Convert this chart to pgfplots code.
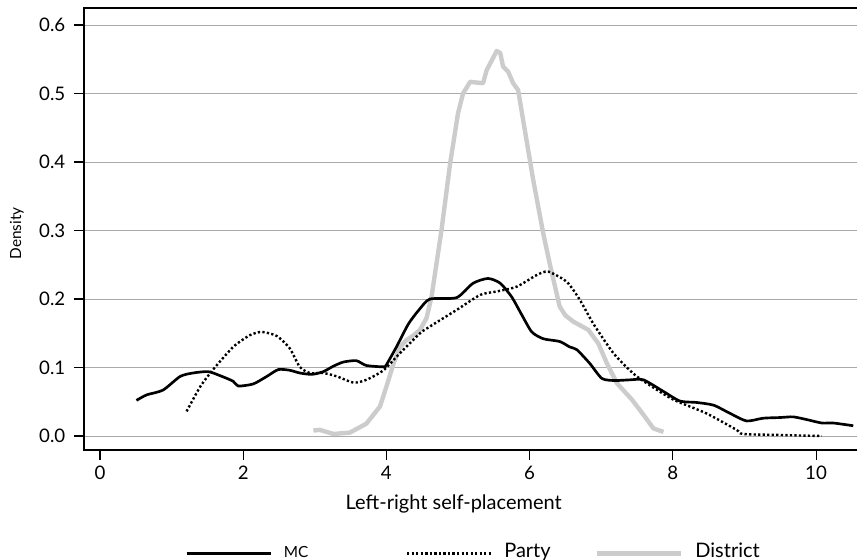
\documentclass[border=0pt]{standalone}
\usepackage{fontspec}
\setmainfont{Lato}
\usepackage{pgfplots}
\pgfplotsset{compat=1.18}
\usetikzlibrary{calc}
\definecolor{distgray}{RGB}{204,204,204}
\definecolor{gridgray}{RGB}{170,170,170}

\begin{document}
\begin{tikzpicture}
\begin{axis}[
    name=ax,
    scale only axis,
    width=581.25pt, height=331.5pt,
    xmin=-0.223, xmax=10.6,
    ymin=-0.0204, ymax=0.6248,
    xtick={0,2,4,6,8,10},
    ytick={0,0.1,0.2,0.3,0.4,0.5,0.6},
    /pgf/number format/assume math mode=true,
    yticklabel style={xshift=-3pt, /pgf/number format/fixed, /pgf/number format/fixed zerofill, /pgf/number format/precision=1},
    xticklabel style={yshift=-1pt},
    tick label style={font=\fontsize{14}{16}\selectfont},
    tick align=outside,
    xtick pos=bottom, ytick pos=left,
    major tick length=7.5pt,
    tick style={black, line width=0.8pt},
    axis line style={black, line width=0.8pt},
    ymajorgrids,
    major grid style={gridgray, line width=0.7pt},
    xlabel={Left-right self-placement},
    xlabel style={at={(axis description cs:0.477,-0.1335)}, anchor=base, font=\fontsize{15}{17}\selectfont},
    ylabel={Density},
    ylabel style={at={(axis description cs:-0.0865,0.49)}, anchor=center, font=\fontsize{11.5}{13}\selectfont},
    reverse legend,
    legend columns=3,
    legend image code/.code={\draw[#1] (0pt,-1.5pt) -- (63pt,-1.5pt);},
    legend style={draw=none, fill=none, inner sep=0pt,
        at={(axis description cs:0.1303,-0.2295)}, anchor=west,
        nodes={inner sep=0pt},
        font=\fontsize{15}{17}\selectfont,
        /tikz/every odd column/.append style={column sep=9pt},
        /tikz/every even column/.append style={column sep=0pt}},
]
% District (drawn first, behind)
\addplot[distgray, line width=3.3pt, line join=round] coordinates {
(2.98,0.008)(3.07,0.009)(3.26,0.003)(3.49,0.005)(3.72,0.018)(3.91,0.043)(4.00,0.072)
(4.10,0.106)(4.19,0.130)(4.28,0.140)(4.38,0.147)(4.47,0.155)(4.56,0.172)(4.63,0.203)
(4.70,0.252)(4.77,0.301)(4.89,0.398)(5.00,0.471)(5.07,0.500)(5.17,0.517)(5.35,0.515)
(5.40,0.534)(5.54,0.562)(5.59,0.559)(5.63,0.539)(5.70,0.532)(5.77,0.515)(5.84,0.505)
(5.91,0.461)(6.05,0.374)(6.19,0.296)(6.28,0.252)(6.42,0.189)(6.50,0.176)(6.61,0.167)
(6.82,0.155)(6.96,0.135)(7.08,0.106)(7.22,0.077)(7.43,0.053)(7.59,0.031)(7.73,0.011)
(7.87,0.006)
};
\addlegendentry{District}
% Party
\addplot[black, line width=1.8pt, dash pattern=on 1.7pt off 1.7pt, smooth, tension=0.4] coordinates {
(1.21,0.036)(1.40,0.072)(1.58,0.097)(1.86,0.130)(2.09,0.147)(2.26,0.152)(2.47,0.146)
(2.65,0.128)(2.79,0.101)(2.93,0.092)(3.12,0.092)(3.31,0.087)(3.54,0.078)(3.72,0.082)
(3.96,0.096)(4.19,0.121)(4.47,0.150)(4.61,0.160)(4.98,0.184)(5.31,0.206)(5.54,0.211)
(5.82,0.218)(6.10,0.235)(6.26,0.240)(6.52,0.225)(6.70,0.199)(6.89,0.164)(7.17,0.121)
(7.45,0.091)(7.68,0.074)(8.01,0.053)(8.47,0.033)(8.89,0.009)(8.98,0.003)(9.50,0.0015)
(10.08,0.0)
};
\addlegendentry{\makebox[68pt][l]{Party}}
% MC
\addplot[black, line width=2pt, smooth, tension=0.4] coordinates {
(0.51,0.052)(0.65,0.060)(0.88,0.067)(1.12,0.087)(1.30,0.092)(1.51,0.094)(1.68,0.088)
(1.86,0.080)(1.93,0.073)(2.14,0.076)(2.33,0.087)(2.49,0.097)(2.65,0.096)(2.79,0.092)
(2.96,0.090)(3.12,0.094)(3.26,0.102)(3.40,0.108)(3.58,0.110)(3.72,0.103)(3.96,0.101)
(4.00,0.104)(4.14,0.130)(4.31,0.164)(4.47,0.186)(4.61,0.200)(4.98,0.202)(5.21,0.223)
(5.42,0.230)(5.59,0.223)(5.75,0.203)(5.89,0.177)(6.03,0.152)(6.19,0.142)(6.42,0.138)
(6.56,0.130)(6.66,0.126)(6.84,0.106)(7.01,0.084)(7.19,0.081)(7.40,0.082)(7.59,0.082)
(7.87,0.065)(8.10,0.051)(8.33,0.049)(8.57,0.045)(8.80,0.033)(9.03,0.022)(9.26,0.026)
(9.50,0.027)(9.68,0.028)(9.87,0.024)(10.08,0.019)(10.24,0.019)(10.52,0.015)
};
\addlegendentry{\makebox[91.5pt][l]{\raisebox{-2.5pt}{\fontsize{11.5}{13}\selectfont MC}}}
\end{axis}
\pgfresetboundingbox
\path ($(ax.south west)+(-63pt,-82.5pt)$) rectangle ($(ax.north east)+(-1.5pt,6pt)$);
\end{tikzpicture}
\end{document}
